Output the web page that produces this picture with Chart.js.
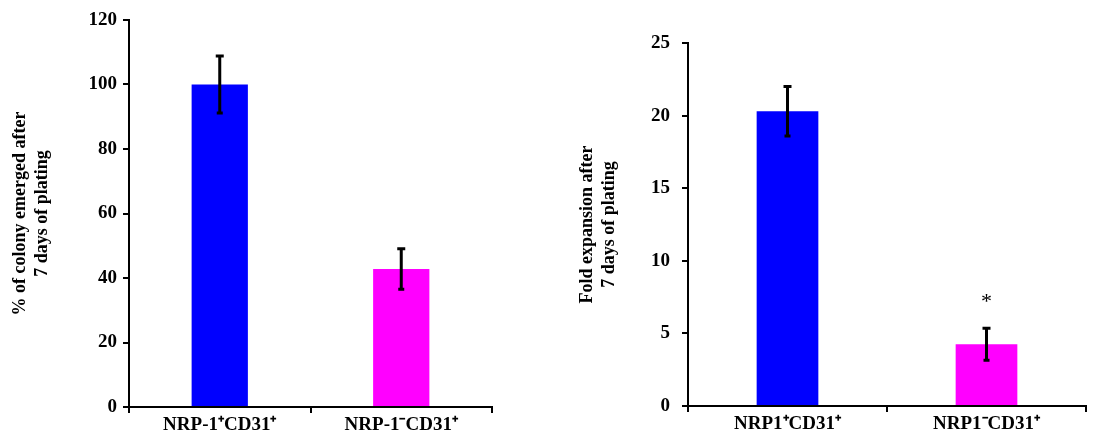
<!DOCTYPE html>
<html>
<head>
<meta charset="utf-8">
<script src="https://cdn.jsdelivr.net/npm/chart.js@4"></script>
<style>
  html, body { margin: 0; padding: 0; background: #fff; overflow: hidden; }
  .panel { position: absolute; top: 0; height: 441px; }
  #left { left: 0; width: 560px; }
  #right { left: 560px; width: 539px; }
</style>
</head>
<body>
<div class="panel" id="left"><canvas id="colony"></canvas></div>
<div class="panel" id="right"><canvas id="fold"></canvas></div>
<script>
// Left panel: colony formation
const colonyLabels = ['NRP-1\u207ACD31\u207A', 'NRP-1\u207BCD31\u207A'];
const colonyValues = [100, 42.8];
const colonyErrors = [8.8, 6.3];
const colonyTicks = [0, 20, 40, 60, 80, 100, 120];

// Right panel: fold expansion
const foldLabels = ['NRP1\u207ACD31\u207A', 'NRP1\u207BCD31\u207A'];
const foldValues = [20.3, 4.25];
const foldErrors = [1.7, 1.1];
const foldTicks = [0, 5, 10, 15, 20, 25];
const foldMarks = ['', '*'];

const barColors = ['#0000ff', '#ff00ff'];
const FONT = '"Liberation Serif", "Times New Roman", serif';

// draws the error bars (and significance marks) from the arrays above
const errorBars = {
  id: 'errorBars',
  afterDatasetsDraw(chart, args, opts) {
    const ctx = chart.ctx;
    const meta = chart.getDatasetMeta(0);
    const y = chart.scales.y;
    ctx.save();
    ctx.strokeStyle = '#000';
    ctx.lineWidth = 3;
    meta.data.forEach((bar, i) => {
      const v = opts.values[i], e = opts.errors[i];
      const top = y.getPixelForValue(v + e);
      const bot = y.getPixelForValue(v - e);
      const x = bar.x;
      ctx.beginPath();
      ctx.moveTo(x, top); ctx.lineTo(x, bot);
      ctx.moveTo(x - 4, top); ctx.lineTo(x + 4, top);
      ctx.moveTo(x - 3, bot); ctx.lineTo(x + 3, bot);
      ctx.stroke();
      const mark = opts.marks ? opts.marks[i] : '';
      if (mark) {
        ctx.fillStyle = '#000';
        ctx.font = '22px ' + FONT;
        ctx.textAlign = 'center';
        ctx.textBaseline = 'middle';
        ctx.fillText(mark, x, top - 26);
      }
    });
    ctx.restore();
  }
};

function makeChart(canvasId, labels, values, errors, ticks, marks, title, pad, yWidth, titlePad, tickPad) {
  const max = ticks[ticks.length - 1];
  const step = ticks[1] - ticks[0];
  return new Chart(document.getElementById(canvasId), {
    type: 'bar',
    data: {
      labels,
      datasets: [{
        data: values,
        backgroundColor: barColors,
        borderWidth: 0,
        barPercentage: 0.31,
        categoryPercentage: 1
      }]
    },
    options: {
      responsive: true,
      maintainAspectRatio: false,
      animation: false,
      layout: { padding: pad },
      plugins: {
        legend: { display: false },
        tooltip: { enabled: false },
        errorBars: { values, errors, marks }
      },
      scales: {
        x: {
          offset: true,
          afterFit: s => { s.height = 441 - pad.bottomAxis; },
          grid: {
            offset: true,
            drawOnChartArea: false,
            drawTicks: true,
            tickLength: 6,
            color: '#000',
            lineWidth: 2
          },
          border: { color: '#000', width: 2 },
          ticks: {
            color: '#000',
            padding: 1,
            font: { family: FONT, size: 19, weight: 'bold' }
          }
        },
        y: {
          min: 0,
          max: max,
          afterFit: s => { s.width = yWidth; },
          grid: {
            drawOnChartArea: false,
            drawTicks: true,
            tickLength: 6,
            color: '#000',
            lineWidth: 2
          },
          border: { color: '#000', width: 2 },
          ticks: {
            stepSize: step,
            color: '#000',
            padding: tickPad,
            font: { family: FONT, size: 19, weight: 'bold' }
          },
          title: {
            display: true,
            text: title,
            color: '#000',
            padding: { top: titlePad, bottom: 0 },
            font: { family: FONT, size: 18, weight: 'bold', lineHeight: 1.25 }
          }
        }
      }
    },
    plugins: [errorBars]
  });
}

makeChart('colony', colonyLabels, colonyValues, colonyErrors, colonyTicks, null,
  ['% of colony emerged after', '7 days of plating'],
  { top: 20, right: 68, bottom: 0, left: 0, bottomAxis: 407 }, 129, 9, 6);

makeChart('fold', foldLabels, foldValues, foldErrors, foldTicks, foldMarks,
  ['Fold expansion after', '7 days of plating'],
  { top: 43, right: 13, bottom: 0, left: 0, bottomAxis: 406 }, 128, 16, 12);
</script>
</body>
</html>
